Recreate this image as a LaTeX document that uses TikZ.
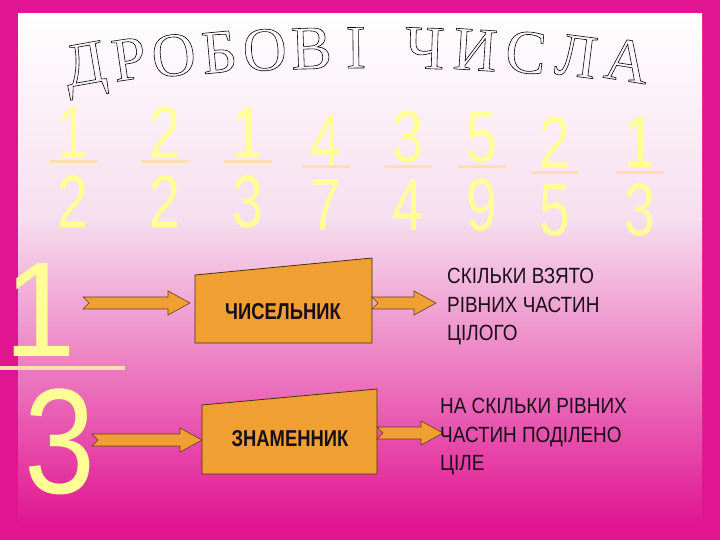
\documentclass[tikz,border=0pt]{standalone}
\usepackage{fontspec}
\setmainfont{Liberation Sans}
\newfontfamily\titlefont{Liberation Serif}
\usetikzlibrary{calc}
\definecolor{mag}{RGB}{225,20,145}
\definecolor{lpink}{RGB}{246,222,238}
\definecolor{yel}{RGB}{255,255,150}
\definecolor{fline}{RGB}{255,222,175}
\definecolor{orng}{RGB}{240,160,50}
\definecolor{txt}{RGB}{25,15,25}
\newcommand{\outl}[1]{\special{pdf:literal 1 Tr 0.6 w}#1\special{pdf:literal 0 Tr}}
\begin{document}
\begin{tikzpicture}[x=1pt,y=-1pt,
  tl/.style={font=\titlefont\fontsize{62}{62}\selectfont, anchor=base, inner sep=0, xscale=0.98},
  dig/.style={text=yel, font=\fontsize{74}{74}\selectfont, xscale=0.75, inner sep=0},
  fl/.style={draw=fline, line width=3pt},
  bx/.style={fill=orng, draw=black!70!orng, line width=0.8pt},
  ar/.style={fill=orng, draw=black!60!orng, line width=0.6pt},
  rt/.style={text=txt, font=\fontsize{22}{28.5}\selectfont, align=left, anchor=north west, inner sep=0, xscale=0.86}]
\useasboundingbox (0,0) rectangle (720,540);
\fill[mag] (0,0) rectangle (720,540);
\shade[top color=white, bottom color=lpink] (18,14) rectangle (702,220);
\shade[top color=lpink, bottom color=mag] (18,219) rectangle (702,526);
% title
\foreach \c/\x in {Д/88, Р/132, О/176, Б/221, О/266, В/312, І/356, Ч/424, И/474, С/524, Л/574, А/624}{
  \pgfmathsetmacro{\yy}{68+0.0002*(\x-370)*(\x-370)}
  \pgfmathsetmacro{\rr}{-(\x-370)*0.035}
  \node[tl, rotate=\rr] (t\x) at (\x,\yy) {\outl{\c}};
}
% fractions
\foreach \x/\n/\d/\ny/\ly/\dy in {73/1/2/133/162/202, 165/2/2/133/162/202, 248/1/3/133/162/202, 326/4/7/141/167/205, 408/3/4/137/167/205, 482/5/9/137/167/205, 555/2/5/143/173/210, 640/1/3/142/173/210}{
  \node[dig] (n\x) at (\x,\ny) {\n};
  \draw[fl] (\x-24,\ly) -- (\x+24,\ly);
  \node[dig] (d\x) at (\x,\dy) {\d};
}
% big fraction
\node[text=yel, font=\fontsize{135}{135}\selectfont, xscale=0.95, inner sep=0] (b1) at (40,310) {1};
\draw[line width=3.5pt, draw=fline] (0,368) -- (125,368);
\node[text=yel, font=\fontsize{150}{150}\selectfont, xscale=0.85, inner sep=0] (b3) at (60,442) {3};
% boxes
\draw[bx] (195,275) -- (372,258) -- (372,343) -- (195,343) -- cycle;
\node[font=\bfseries\fontsize{23}{23}\selectfont, text=txt, xscale=0.8] (num) at (283,312) {ЧИСЕЛЬНИК};
\draw[bx] (202,405) -- (377,389) -- (377,474) -- (202,474) -- cycle;
\node[font=\bfseries\fontsize{23}{23}\selectfont, text=txt, xscale=0.8] (den) at (290,439) {ЗНАМЕННИК};
% arrows
\foreach \a/\b/\y in {83/190/303, 372/436/303, 92/202/440, 377/443/433}{
  \draw[ar] (\a,\y-6) -- (\b-22,\y-6) -- (\b-22,\y-12) -- (\b,\y) -- (\b-22,\y+12) -- (\b-22,\y+6) -- (\a,\y+6) -- (\a+6,\y) -- cycle;
}
% texts
\node[rt] (r1) at (447,268) {СКІЛЬКИ ВЗЯТО\\РІВНИХ ЧАСТИН\\ЦІЛОГО};
\node[rt] (r2) at (440,398) {НА СКІЛЬКИ РІВНИХ\\ЧАСТИН  ПОДІЛЕНО\\ЦІЛЕ};
\end{tikzpicture}
\end{document}
